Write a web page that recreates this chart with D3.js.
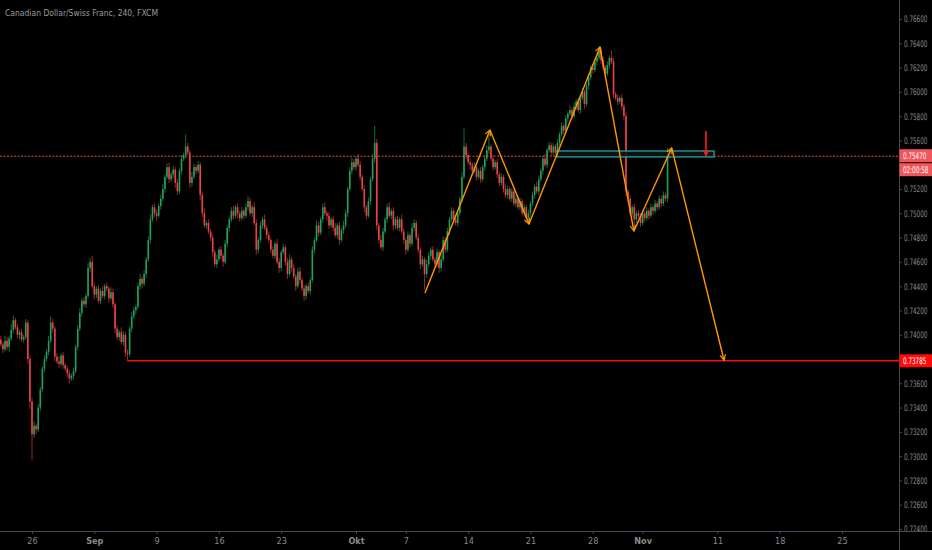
<!DOCTYPE html>
<html>
<head>
<meta charset="utf-8">
<script src="https://cdn.jsdelivr.net/npm/d3@7"></script>
<style>
  html, body { margin: 0; padding: 0; background: #000; }
  svg { display: block; }
  .axis text { fill: #8a8a8a; font-family: "DejaVu Sans Condensed", "DejaVu Sans", sans-serif; font-size: 9px; }
  .axis path, .axis line { stroke: #4a4a52; }
</style>
</head>
<body>
<svg width="932" height="550"></svg>
<script>
// CADCHF 4h candles, bar index 0 = first bar of Mon 26 Aug, first value is bar -15
var firstBar = -15;
var firstOpen = 0.7396;
var closes = [
  0.7392, 0.7388, 0.7395, 0.7390, 0.7397, 0.7404, 0.7412, 0.7406, 0.7400, 0.7402,
  0.7396, 0.7398, 0.7410, 0.7380, 0.7345, 0.7318, 0.7325, 0.7322, 0.7340, 0.7355,
  0.7372, 0.7380, 0.7386, 0.7395, 0.7410, 0.7405, 0.7382, 0.7378, 0.7376, 0.7383,
  0.7375, 0.7372, 0.7368, 0.7364, 0.7366, 0.7370, 0.7390, 0.7405, 0.7418, 0.7428,
  0.7425, 0.7432, 0.7455, 0.7460, 0.7440, 0.7433, 0.7438, 0.7428, 0.7436, 0.7432,
  0.7440, 0.7438, 0.7430, 0.7435, 0.7425, 0.7405, 0.7398, 0.7402, 0.7394, 0.7400,
  0.7385, 0.7384, 0.7405, 0.7415, 0.7420, 0.7423, 0.7440, 0.7446, 0.7442, 0.7450,
  0.7462, 0.7478, 0.7495, 0.7505, 0.7500, 0.7498, 0.7506, 0.7512, 0.7520, 0.7530,
  0.7538, 0.7528, 0.7532, 0.7536, 0.7525, 0.7518, 0.7535, 0.7545, 0.7548, 0.7555,
  0.7550, 0.7525, 0.7530, 0.7538, 0.7535, 0.7540, 0.7515, 0.7500, 0.7490, 0.7492,
  0.7485, 0.7480, 0.7468, 0.7458, 0.7462, 0.7470, 0.7465, 0.7460, 0.7475, 0.7488,
  0.7495, 0.7502, 0.7498, 0.7505, 0.7500, 0.7496, 0.7502, 0.7498, 0.7505, 0.7510,
  0.7500, 0.7505, 0.7492, 0.7470, 0.7478, 0.7490, 0.7495, 0.7488, 0.7482, 0.7478,
  0.7470, 0.7465, 0.7475, 0.7460, 0.7455, 0.7468, 0.7472, 0.7460, 0.7450, 0.7462,
  0.7455, 0.7448, 0.7440, 0.7452, 0.7445, 0.7438, 0.7432, 0.7440, 0.7436, 0.7445,
  0.7470, 0.7478, 0.7490, 0.7484, 0.7495, 0.7505, 0.7500, 0.7498, 0.7490, 0.7495,
  0.7488, 0.7482, 0.7490, 0.7478, 0.7486, 0.7490, 0.7500, 0.7520, 0.7535, 0.7542,
  0.7538, 0.7545, 0.7540, 0.7530, 0.7520, 0.7505, 0.7498, 0.7510, 0.7528, 0.7545,
  0.7558, 0.7490, 0.7478, 0.7472, 0.7485, 0.7495, 0.7505, 0.7498, 0.7502, 0.7490,
  0.7495, 0.7488, 0.7495, 0.7485, 0.7478, 0.7470, 0.7482, 0.7475, 0.7488, 0.7492,
  0.7480, 0.7470, 0.7458, 0.7462, 0.7450, 0.7458, 0.7465, 0.7470, 0.7462, 0.7458,
  0.7468, 0.7455, 0.7462, 0.7478, 0.7470, 0.7485, 0.7495, 0.7502, 0.7495, 0.7492,
  0.7500, 0.7512, 0.7530, 0.7555, 0.7548, 0.7542, 0.7540, 0.7535, 0.7538, 0.7530,
  0.7535, 0.7528, 0.7538, 0.7545, 0.7552, 0.7555, 0.7545, 0.7538, 0.7542, 0.7532,
  0.7525, 0.7530, 0.7520, 0.7515, 0.7520, 0.7512, 0.7518, 0.7508, 0.7512, 0.7505,
  0.7510, 0.7500, 0.7505, 0.7496, 0.7500, 0.7508, 0.7515, 0.7522, 0.7518, 0.7528,
  0.7535, 0.7545, 0.7540, 0.7552, 0.7556, 0.7550, 0.7555, 0.7550, 0.7558, 0.7565,
  0.7572, 0.7568, 0.7578, 0.7582, 0.7585, 0.7580, 0.7588, 0.7592, 0.7585, 0.7595,
  0.7600, 0.7590, 0.7605, 0.7612, 0.7620, 0.7618, 0.7625, 0.7628, 0.7634, 0.7626,
  0.7620, 0.7615, 0.7622, 0.7628, 0.7625, 0.7598, 0.7595, 0.7592, 0.7595, 0.7588,
  0.7580, 0.7518, 0.7512, 0.7500, 0.7505, 0.7495, 0.7500, 0.7498, 0.7492, 0.7500,
  0.7496, 0.7502, 0.7498, 0.7505, 0.7502, 0.7508, 0.7505, 0.7512, 0.7508, 0.7515,
  0.7512, 0.7550, 0.7547
];
// wick lengths beyond the body, in pips
var upWick = [
  3,2,4,3,2,5,4,2,3,2, 3,2,3,2,3,3,4,2,3,2, 2,3,2,4,5,3,2,3,4,2, 3,2,2,3,2,3,2,3,4,2,
  3,2,4,3,5,3,2,3,2,4, 2,3,2,4,3,2,3,2,4,3, 2,3,2,4,3,2,3,4,2,3, 2,3,4,2,3,3,2,3,4,2,
  3,4,2,3,2,3,2,3,2,10, 3,2,4,3,2,3,2,3,4,2, 3,2,3,2,4,2,3,2,3,2, 2,3,4,2,3,2,3,2,3,4,
  3,2,4,3,2,3,2,4,2,3, 2,3,2,4,3,2,3,2,3,4, 2,3,2,3,4,2,3,2,3,2, 3,2,4,3,2,3,4,2,3,2,
  3,4,2,3,2,4,3,2,3,4, 3,2,4,3,2,3,2,3,2,4, 14,3,2,4,3,2,3,4,2,3, 2,3,2,4,3,2,3,2,4,3,
  2,3,2,3,2,4,3,2,3,2, 3,2,4,3,2,3,2,3,2,4, 3,2,4,15,3,2,3,2,4,3, 2,3,2,3,4,13,2,3,2,3,
  2,3,2,4,3,2,3,2,3,2, 3,2,3,2,3,2,3,2,4,3, 2,3,4,2,3,2,3,2,3,2, 3,2,3,2,4,2,3,2,3,2,
  3,2,2,3,2,3,2,3,4,2, 3,2,3,2,6,3,2,3,2,3, 2,3,2,3,2,3,2,3,2,3, 2,3,2,3,2,3,2,3,2,3,
  2,4,2
];
var downWick = [
  2,3,2,3,4,2,3,2,3,4, 2,3,2,4,6,21,3,4,2,3, 2,3,2,3,2,3,4,2,3,2, 3,2,3,4,2,3,2,3,2,3,
  2,3,2,3,2,4,3,2,3,2, 3,2,4,2,3,4,2,3,2,3, 3,6,2,3,2,3,2,3,4,2, 3,2,3,2,3,4,2,3,2,3,
  2,3,2,3,4,3,2,3,2,3, 2,4,3,2,3,2,4,3,2,3, 2,3,4,2,3,2,3,4,2,3, 3,2,3,2,4,3,2,3,2,3,
  2,3,2,4,3,2,3,2,3,2, 3,2,3,2,4,3,2,3,4,2, 3,2,4,2,3,2,4,3,2,3, 2,3,2,3,2,3,2,4,3,2,
  3,2,3,4,2,3,2,3,2,3, 2,3,2,3,2,4,3,2,3,2, 3,4,3,2,3,2,3,2,3,4, 3,2,3,2,3,4,2,3,2,3,
  2,3,4,2,13,3,2,3,2,3, 2,4,3,2,3,2,3,2,3,2, 3,2,3,2,3,2,4,3,2,3, 2,3,2,3,2,3,2,3,2,3,
  3,2,3,2,3,2,3,2,3,2, 3,2,3,2,5,3,2,3,2,3, 2,3,2,3,2,3,2,3,2,3, 2,3,2,3,2,3,2,3,2,3,
  2,4,2,3,2,3,2,3,2,3, 2,3,2,3,2,3,2,3,2,3, 3,4,3,2,3,10,3,2,3,2, 3,2,3,2,3,2,3,2,3,2,
  2,3,2
];

// time axis: bar index of each labelled day (6 bars/day, 5 days/week)
var xTickBars   = [0, 30, 60, 90, 120, 156, 180, 210, 240, 270, 294, 330, 360, 390];
var xTickLabels = ["26", "Sep", "9", "16", "23", "Okt", "7", "14", "21", "28", "Nov", "11", "18", "25"];
var yTicks = [0.724, 0.726, 0.728, 0.730, 0.732, 0.734, 0.736, 0.738, 0.740, 0.742, 0.744,
              0.746, 0.748, 0.750, 0.752, 0.756, 0.758, 0.760, 0.762, 0.764, 0.766];

// drawings: [bar index, price]
var zigzag = [[189.2, 0.74344], [220.5, 0.75686], [239.3, 0.74912], [273.5, 0.76369],
              [289.8, 0.74854], [308, 0.75538], [333.2, 0.73790]];
var lastPrice = 0.75470;
var countdown = "02:00:58";
var targetPrice = 0.73785;
var targetFromBar = 46;
var zoneBars = [252.8, 328.4];
var zonePrices = [0.75513, 0.75464];
var sellArrow = [324.5, 0.75678, 0.75475];

var W = 932, H = 550, plotRight = 899, plotBottom = 531;
var labelFont = "9px 'DejaVu Sans Condensed', 'DejaVu Sans', sans-serif";
var squeeze = 0.7; // price scale glyphs are very narrow in the original

var x = d3.scaleLinear().domain([0, 390]).range([32, 842]);
var y = d3.scaleLinear().domain([0.724, 0.766]).range([529, 19]);

var svg = d3.select("svg");
svg.append("rect").attr("width", W).attr("height", H).attr("fill", "#000");

var defs = svg.append("defs");
function arrowMarker(id, color) {
  defs.append("marker").attr("id", id)
    .attr("viewBox", "0 0 10 10").attr("refX", 9).attr("refY", 5)
    .attr("markerWidth", 7).attr("markerHeight", 7)
    .attr("markerUnits", "userSpaceOnUse")
    .attr("orient", "auto")
    .append("path").attr("d", "M1,1 L9,5 L1,9")
    .attr("fill", "none").attr("stroke", color).attr("stroke-width", 1.6);
}
arrowMarker("arrOrange", "#ff9800");
arrowMarker("arrRed", "#ff2020");

var plot = svg.append("g");
plot.append("clipPath").attr("id", "clip").append("rect")
  .attr("width", plotRight).attr("height", plotBottom);
var g = plot.append("g").attr("clip-path", "url(#clip)");

// build candles
var bars = closes.map(function(c, k) {
  var o = k === 0 ? firstOpen : closes[k - 1];
  return {
    i: firstBar + k, o: o, c: c,
    h: Math.max(o, c) + upWick[k] * 0.0001,
    l: Math.min(o, c) - downWick[k] * 0.0001
  };
});

var candle = g.selectAll(".candle").data(bars).enter().append("g").attr("class", "candle");
candle.append("line")
  .attr("x1", function(d) { return x(d.i); })
  .attr("x2", function(d) { return x(d.i); })
  .attr("y1", function(d) { return y(d.h); })
  .attr("y2", function(d) { return y(d.l); })
  .attr("stroke", function(d) { return d.c >= d.o ? "#17683f" : "#8e2b2b"; })
  .attr("stroke-width", 1);
candle.append("rect")
  .attr("x", function(d) { return x(d.i) - 0.8; })
  .attr("width", 1.6)
  .attr("y", function(d) { return y(Math.max(d.o, d.c)); })
  .attr("height", function(d) { return Math.max(1, Math.abs(y(d.o) - y(d.c))); })
  .attr("fill", function(d) { return d.c >= d.o ? "#22a05c" : "#ec4245"; });

// last price line
g.append("line")
  .attr("x1", 0).attr("x2", plotRight)
  .attr("y1", y(lastPrice)).attr("y2", y(lastPrice))
  .attr("stroke", "#d9494b").attr("stroke-width", 1).attr("stroke-dasharray", "2,1.5");

// target line
g.append("line")
  .attr("x1", x(targetFromBar)).attr("x2", plotRight)
  .attr("y1", y(targetPrice)).attr("y2", y(targetPrice))
  .attr("stroke", "#f01010").attr("stroke-width", 1.5);

// zone rectangle
g.append("rect")
  .attr("x", x(zoneBars[0])).attr("width", x(zoneBars[1]) - x(zoneBars[0]))
  .attr("y", y(zonePrices[0])).attr("height", y(zonePrices[1]) - y(zonePrices[0]))
  .attr("fill", "rgba(20,20,10,0.85)")
  .attr("stroke", "#1fb1b8").attr("stroke-width", 1.2);

// zigzag arrows
for (var k = 0; k < zigzag.length - 1; k++) {
  g.append("line")
    .attr("x1", x(zigzag[k][0])).attr("y1", y(zigzag[k][1]))
    .attr("x2", x(zigzag[k + 1][0])).attr("y2", y(zigzag[k + 1][1]))
    .attr("stroke", "#ff9800").attr("stroke-width", 1.4)
    .attr("marker-end", "url(#arrOrange)");
}

// sell arrow
g.append("line")
  .attr("x1", x(sellArrow[0])).attr("x2", x(sellArrow[0]))
  .attr("y1", y(sellArrow[1])).attr("y2", y(sellArrow[2]))
  .attr("stroke", "#ff2020").attr("stroke-width", 1.6)
  .attr("marker-end", "url(#arrRed)");

// axes
var yAxis = d3.axisRight(y).tickValues(yTicks).tickFormat(d3.format(".5f")).tickSize(3).tickPadding(2);
svg.append("g").attr("class", "axis").attr("transform", "translate(" + plotRight + ",0)").call(yAxis)
  .call(function(a) {
    a.select(".domain").attr("d", "M0.5,0V" + H);
    a.selectAll(".tick text").attr("x", 0)
      .attr("transform", "translate(5,0) scale(" + squeeze + ",1)");
  });

var xAxis = d3.axisBottom(x).tickValues(xTickBars)
  .tickFormat(function(d, i) { return xTickLabels[i]; }).tickSize(3).tickPadding(4);
svg.append("g").attr("class", "axis").attr("transform", "translate(0," + plotBottom + ")").call(xAxis)
  .call(function(a) {
    a.select(".domain").attr("d", "M0,0.5H" + W);
    a.selectAll(".tick text").attr("fill", function(d, i) {
      return isNaN(+xTickLabels[i]) ? "#b0b0b0" : "#8a8a8a";
    }).attr("font-weight", function(d, i) { return isNaN(+xTickLabels[i]) ? "bold" : null; });
  });

// price labels on the scale
function priceTag(yy, h, color, txt) {
  svg.append("rect").attr("x", plotRight + 0.5).attr("y", yy).attr("width", W - plotRight).attr("height", h)
    .attr("fill", color);
  svg.append("text")
    .attr("transform", "translate(" + (plotRight + 4) + "," + (yy + h / 2) + ") scale(" + squeeze + ",1)")
    .attr("dy", "0.35em")
    .attr("fill", "#fff")
    .style("font", labelFont)
    .text(txt);
}
priceTag(y(lastPrice) - 7, 13, "#f0565a", d3.format(".5f")(lastPrice));
priceTag(y(lastPrice) + 7, 13, "#f0565a", countdown);
priceTag(y(targetPrice) - 6.5, 13, "#ff0a0a", d3.format(".5f")(targetPrice));

// title
svg.append("text").attr("x", 5).attr("y", 16)
  .attr("fill", "#9a9a9a")
  .attr("textLength", 153).attr("lengthAdjust", "spacingAndGlyphs")
  .style("font", labelFont)
  .text("Canadian Dollar/Swiss Franc, 240, FXCM");
</script>
</body>
</html>
